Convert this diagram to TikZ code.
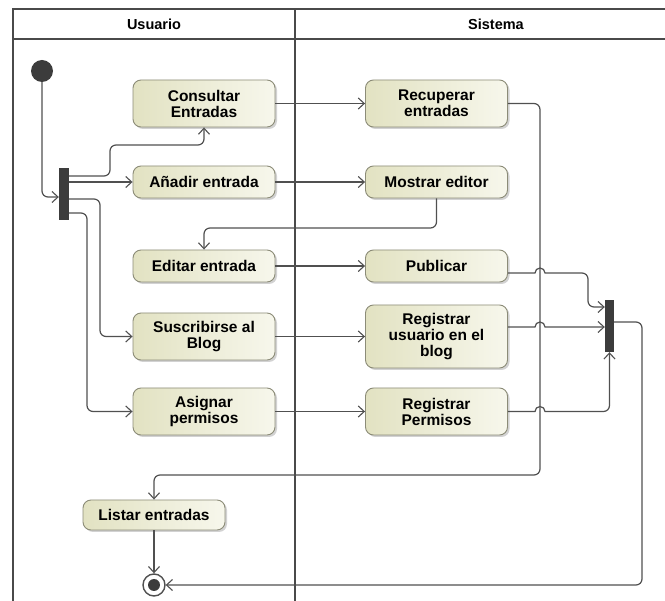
\documentclass[tikz,border=0pt]{standalone}
\usepackage{fontspec}
\setmainfont{Liberation Sans}
\usetikzlibrary{arrows.meta,shadows}
\definecolor{linec}{HTML}{505050}
\definecolor{framec}{HTML}{4A4A4A}
\definecolor{nodeborder}{HTML}{8C8C78}
\definecolor{nodeleft}{HTML}{E2E2C2}
\definecolor{noderight}{HTML}{F7F7EC}
\definecolor{barc}{HTML}{3C3C3C}
\tikzset{
  action/.style={rounded corners=8pt, draw=nodeborder, line width=0.9pt,
    left color=nodeleft, right color=noderight,
    drop shadow={shadow xshift=2pt, shadow yshift=-2pt, opacity=0.35, fill=gray},
    minimum width=142pt, minimum height=32pt, align=center, inner sep=1pt,
    font=\fontsize{15.5}{16}\selectfont\bfseries},
  conn/.style={draw=linec, line width=1.2pt, rounded corners=6pt,
    -{Straight Barb[length=6pt,width=11pt,line width=1.1pt]}},
  bar/.style={fill=barc, draw=none, minimum width=10pt, minimum height=52pt, inner sep=0pt},
  lane/.style={draw=framec, line width=2pt},
  lanetitle/.style={font=\fontsize{14.5}{16}\selectfont\bfseries}
}
\begin{document}
\begin{tikzpicture}[x=1pt,y=-1pt]
\useasboundingbox (0,0) rectangle (665,601);
\fill[white] (0,0) rectangle (665,601);
% swimlanes
\draw[lane] (13,601) -- (13,9) -- (665,9);
\draw[lane] (13,39) -- (665,39);
\draw[lane] (295,9) -- (295,601);
\node[lanetitle] (tu) at (154,24) {Usuario};
\node[lanetitle] (ts) at (496,24) {Sistema};

% initial node
\node[circle, fill=barc, minimum size=22pt, inner sep=0pt] (init) at (42,71) {};
% fork and join
\node[bar] (fork) at (64,194) {};
\node[bar, minimum width=9pt] (join) at (609.5,326) {};

% actions
\node[action, minimum height=47pt] (consult) at (204,103.5) {Consultar\\Entradas};
\node[action, minimum height=47pt] (recup) at (436.5,103.5) {Recuperar\\entradas};
\node[action] (anadir) at (204,182) {Añadir entrada};
\node[action] (mostrar) at (436.5,182) {Mostrar editor};
\node[action] (editar) at (204,266) {Editar entrada};
\node[action] (publicar) at (436.5,266) {Publicar};
\node[action, minimum height=47pt] (susc) at (204,336.5) {Suscribirse al\\Blog};
\node[action, minimum height=63pt] (regusr) at (436.5,336.5) {Registrar\\usuario en el\\blog};
\node[action, minimum height=47pt] (asig) at (204,411.5) {Asignar\\permisos};
\node[action, minimum height=47pt] (regperm) at (436.5,411.5) {Registrar\\Permisos};
\node[action, minimum height=30pt] (listar) at (154,515) {Listar entradas};

% final node
\node[circle, draw=linec, line width=1.4pt, fill=white, minimum size=22pt, inner sep=0pt] (final) at (154,585) {};
\fill[barc] (final.center) circle[radius=6pt];

% connectors
\draw[conn] (init.south) |- ([yshift=-3pt]fork.west);
\draw[conn] ([yshift=18pt]fork.east) -- (110,176) -- (110,145) -- (consult.south |- 0,145) -- (consult.south);
\draw[conn] (fork.east |- anadir.west) -- (anadir.west);
\draw[conn] ([yshift=-5pt]fork.east) -- (100,199) -- (100,336.5) -- (susc.west);
\draw[conn] ([yshift=-19pt]fork.east) -- (87,213) -- (87,411.5) -- (asig.west);

\draw[conn] (consult.east) -- (recup.west);
\draw[conn] (anadir.east) -- (mostrar.west);
\draw[conn] (editar.east) -- (publicar.west);
\draw[conn] (susc.east) -- (regusr.west);
\draw[conn] (asig.east) -- (regperm.west);

\draw[conn] (recup.east) -- (540,103.5) -- (540,475) -- (listar.north |- 0,475) -- (listar.north);
\draw[conn] (mostrar.south) -- (mostrar.south |- 0,228) -- (editar.north |- 0,228) -- (editar.north);

\draw[conn, sharp corners] ([yshift=-7pt]publicar.east) -- (535,273) arc[start angle=180,end angle=0,radius=5pt] -- (582,273) [rounded corners=6pt] -- (588,273) -- (588,307) -- ([yshift=19pt]join.west);
\draw[conn, sharp corners] ([yshift=9.5pt]regusr.east) -- (535,327) arc[start angle=180,end angle=0,radius=5pt] -- ([yshift=-1pt]join.west);
\draw[conn, sharp corners] (regperm.east) -- (535,411.5) arc[start angle=180,end angle=0,radius=5pt] -- (600,411.5) [rounded corners=6pt] -- (join.south |- 0,411.5) -- (join.south);

\draw[conn] ([yshift=4pt]join.east) -- (642,322) -- (642,585) -- (final.east);
\draw[conn] (listar.south) -- (final.north);
\end{tikzpicture}
\end{document}
